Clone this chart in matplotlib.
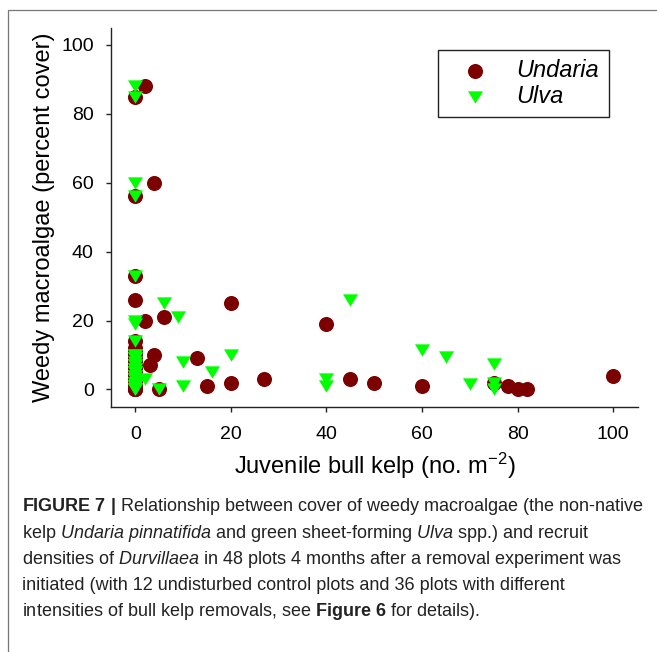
import matplotlib
matplotlib.use("Agg")
import matplotlib.pyplot as plt
from matplotlib.patches import Rectangle

# Percent cover of weedy macroalgae vs. juvenile bull kelp density (48 plots)
undaria_x = [2, 0, 4, 0, 0, 0, 20, 2, 6, 0, 4, 3, 13, 15, 20, 5, 27, 40, 45, 50,
             60, 75, 78, 80, 82, 100,
             0, 0, 0, 0, 0, 0, 0, 0, 0, 0, 0, 0, 0, 0, 0, 0, 0, 0, 0, 0, 0, 0]
undaria_y = [88, 85, 60, 56, 33, 26, 25, 20, 21, 14, 10, 7, 9, 1, 2, 0, 3, 19, 3, 2,
             1, 2, 1, 0, 0, 4,
             12, 11, 10, 9, 8, 8, 7, 6, 5, 5, 4, 3, 3, 2, 2, 1, 1, 1, 0, 0, 0, 0]

ulva_x = [0, 0, 0, 0, 0, 6, 9, 0, 0, 0, 10, 20, 16, 10, 5, 2, 40, 40, 45, 60,
          65, 70, 75, 75, 75,
          0, 0, 0, 0, 0, 0, 0, 0, 0, 0, 0, 0, 0, 0, 0, 0, 0, 0, 0, 0, 0, 0, 0]
ulva_y = [88, 85, 60, 56, 33, 25, 21, 20, 19, 14, 8, 10, 5, 1, 0, 3, 3, 1, 26, 11.5,
          9.5, 1.5, 7.5, 2, 0,
          10, 10, 9, 9, 8, 7, 7, 6, 6, 5, 5, 4, 4, 3, 3, 2, 2, 1, 1, 1, 0, 0, 0]

ticks = [0, 20, 40, 60, 80, 100]

caption_lines = [
    r"$\mathbf{FIGURE\ 7\ |}$ Relationship between cover of weedy macroalgae (the non-native",
    r"kelp $\mathit{Undaria\ pinnatifida}$ and green sheet-forming $\mathit{Ulva}$ spp.) and recruit",
    r"densities of $\mathit{Durvillaea}$ in 48 plots 4 months after a removal experiment was",
    r"initiated (with 12 undisturbed control plots and 36 plots with different",
    r"intensities of bull kelp removals, see $\mathbf{Figure\ 6}$ for details).",
]

cap_font = "Liberation Sans"

plt.rcParams["font.family"] = ["Liberation Sans", "DejaVu Sans"]
plt.rcParams["mathtext.default"] = "regular"
plt.rcParams["mathtext.fontset"] = "custom"
plt.rcParams["mathtext.rm"] = cap_font
plt.rcParams["mathtext.it"] = cap_font + ":italic"
plt.rcParams["mathtext.bf"] = cap_font + ":bold"

W, H = 657, 652
fig = plt.figure(figsize=(W / 100, H / 100), dpi=100)

# thin page frame (top and left edges visible)
fig.patches.append(Rectangle((8 / W, -0.1), 1.2, (H - 10) / H + 0.1,
                             transform=fig.transFigure, fill=False,
                             edgecolor="#777777", linewidth=0.9))

ax = fig.add_axes([111 / W, (H - 407) / H, 527 / W, 379 / H])

tri = [(-1, 0.82), (1, 0.82), (0, -0.82)]
ax.scatter(undaria_x, undaria_y, s=117, marker="o", color="#7c0000",
           linewidths=0, label="Undaria", zorder=2)
ax.scatter(ulva_x, ulva_y, s=117, marker=tri, color="#00ff00",
           linewidths=0, label="Ulva", zorder=3)

ax.set_xlim(-5.1, 105.2)
ax.set_ylim(-5.1, 104.9)
ax.set_xticks(ticks)
ax.set_yticks(ticks)
for side in ("top", "right"):
    ax.spines[side].set_visible(False)
for side in ("left", "bottom"):
    ax.spines[side].set_color("#222222")
    ax.spines[side].set_linewidth(1.0)
ax.tick_params(direction="out", length=3.5, width=1, color="#222222", labelsize=14)
ax.tick_params(axis="x", pad=10)
ax.tick_params(axis="y", pad=9)

ax.set_xlabel(r"Juvenile bull kelp (no. m$^{-2}$)", fontsize=17, labelpad=6)
ax.set_ylabel("Weedy macroalgae (percent cover)", fontsize=17, labelpad=4)

leg = ax.legend(loc="upper left", bbox_to_anchor=(0.62, 0.942), borderaxespad=0,
                prop={"size": 17, "style": "italic"}, fancybox=False,
                edgecolor="#222222", framealpha=1, borderpad=0.4,
                handlelength=2.34, handletextpad=0.6, labelspacing=0.1)
leg.get_frame().set_linewidth(1.0)

baselines = [511, 537.5, 563.5, 589.5, 615.5]
for line, yb in zip(caption_lines, baselines):
    fig.text(22 / W, 1 - yb / H, line, family=cap_font, fontsize=13,
             color="#222222", va="baseline", ha="left")

fig.savefig("out.png", dpi=100)
